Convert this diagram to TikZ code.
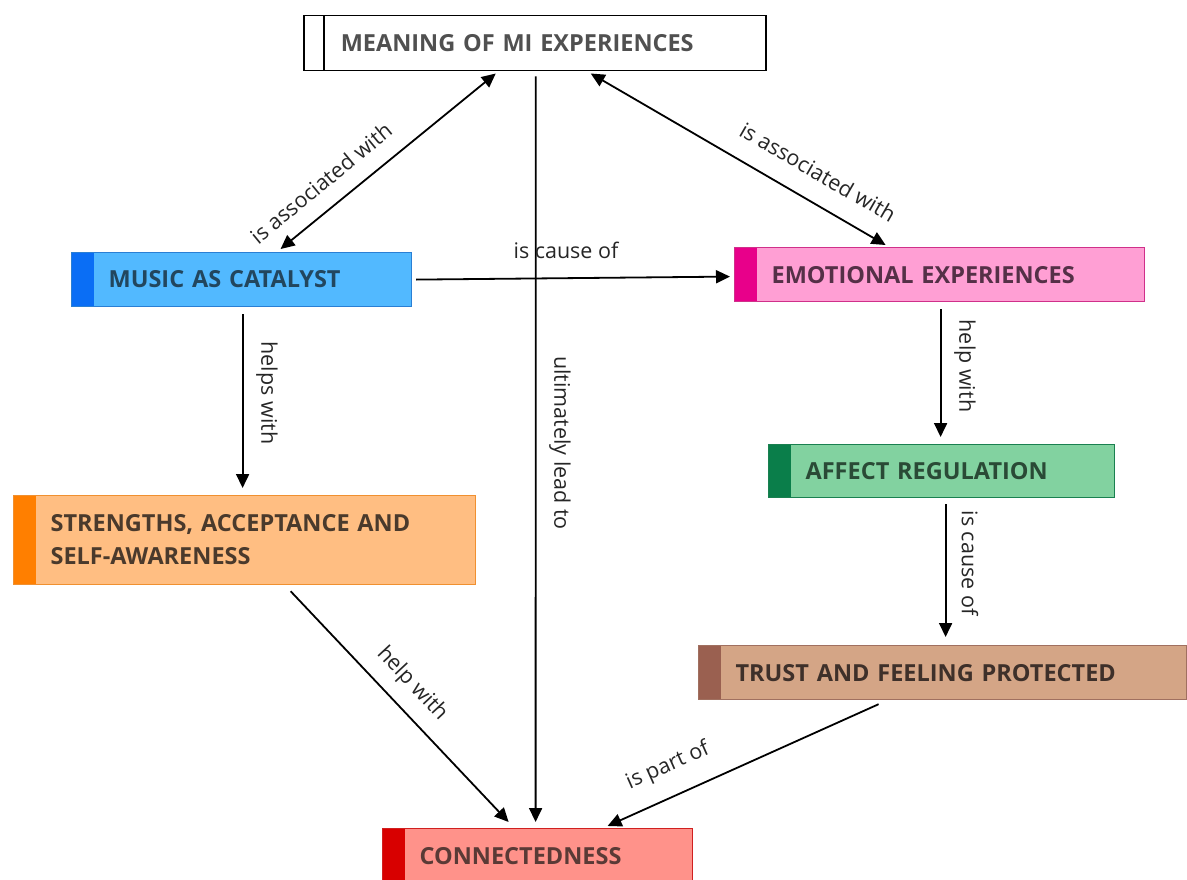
\documentclass[tikz,border=0pt]{standalone}
\usepackage{fontspec}
\setmainfont{Open Sans}
\newfontfamily\boxfam{Open Sans}
\usetikzlibrary{arrows.meta}
\definecolor{bluefill}{HTML}{52B9FF}\definecolor{bluestrip}{HTML}{0A6EF5}\definecolor{blueline}{HTML}{2A7FD4}\definecolor{bluetext}{HTML}{22465E}
\definecolor{pinkfill}{HTML}{FF9FD4}\definecolor{pinkstrip}{HTML}{E8008A}\definecolor{pinkline}{HTML}{D0308A}\definecolor{pinktext}{HTML}{553047}
\definecolor{orfill}{HTML}{FFBE82}\definecolor{orstrip}{HTML}{FF7F00}\definecolor{orline}{HTML}{F09030}\definecolor{ortext}{HTML}{4A3A2C}
\definecolor{grfill}{HTML}{82D2A0}\definecolor{grstrip}{HTML}{0A7E4A}\definecolor{grline}{HTML}{1A8050}\definecolor{grtext}{HTML}{2A4A36}
\definecolor{brfill}{HTML}{D4A586}\definecolor{brstrip}{HTML}{9A6050}\definecolor{brline}{HTML}{A07060}\definecolor{brtext}{HTML}{3E302A}
\definecolor{rdfill}{HTML}{FF928A}\definecolor{rdstrip}{HTML}{D80000}\definecolor{rdline}{HTML}{D02020}\definecolor{rdtext}{HTML}{5A3A36}
\definecolor{toptext}{HTML}{505050}
\tikzset{
  cbox/.style n args={4}{draw=#3, fill=#1, text=#4, line width=1.2pt, anchor=north west,
    align=left, inner xsep=37pt, inner ysep=0pt, minimum height=54pt,
    font=\boxfam\bfseries\fontsize{23.5}{33}\selectfont,
    path picture={\fill[#2] (path picture bounding box.north west) rectangle ([xshift=22pt]path picture bounding box.south west);}},
  topbox/.style={draw=black, fill=white, text=toptext, line width=1.5pt, anchor=north west,
    align=left, inner xsep=37pt, inner ysep=0pt, minimum height=55pt,
    font=\boxfam\bfseries\fontsize{23.5}{33}\selectfont,
    path picture={\draw[black, line width=1.5pt] ([xshift=20pt]path picture bounding box.north west) -- ([xshift=20pt]path picture bounding box.south west);}},
  arr/.style={line width=1.8pt, draw=black, -{Triangle[length=14pt,width=13pt]}},
  darr/.style={line width=1.8pt, draw=black, {Triangle[length=14pt,width=13pt]}-{Triangle[length=14pt,width=13pt]}},
  lbl/.style={font=\fontsize{21.5}{24}\selectfont, text=black!85, inner sep=0pt}
}
\begin{document}
\begin{tikzpicture}[x=1pt,y=-1pt]
\useasboundingbox (0,0) rectangle (1187,880);
\node[topbox, text width=388pt] (top) at (303,15) {MEANING OF MI EXPERIENCES};
\node[cbox={bluefill}{bluestrip}{blueline}{bluetext}, text width=266pt] (music) at (71,252) {MUSIC AS CATALYST};
\node[cbox={pinkfill}{pinkstrip}{pinkline}{pinktext}, text width=336pt] (emo) at (734,247) {EMOTIONAL EXPERIENCES};
\node[cbox={orfill}{orstrip}{orline}{ortext}, text width=388pt, minimum height=89pt] (str) at (13,495) {STRENGTHS, ACCEPTANCE AND\\SELF-AWARENESS};
\node[cbox={grfill}{grstrip}{grline}{grtext}, text width=272pt, minimum height=53pt] (aff) at (768,444) {AFFECT REGULATION};
\node[cbox={brfill}{brstrip}{brline}{brtext}, text width=414pt] (trust) at (698,645) {TRUST AND FEELING PROTECTED};
\node[cbox={rdfill}{rdstrip}{rdline}{rdtext}, text width=236pt] (conn) at (382,828) {CONNECTEDNESS};

\draw[darr] ([xshift=-39pt,yshift=-2pt]top.south) -- ([xshift=39pt,yshift=3pt]music.north);
\draw[darr] ([xshift=56pt,yshift=-2pt]top.south) -- ([xshift=-54pt,yshift=2pt]emo.north);
\draw[arr] ([xshift=1pt,yshift=-5pt]top.south) -- ([xshift=-2pt,yshift=6pt]conn.north);
\draw[arr] ([xshift=4pt]music.east) -- ([xshift=-4pt,yshift=-2pt]emo.west);
\draw[arr] ([xshift=1pt,yshift=-7pt]music.south) -- ([xshift=-2pt,yshift=7pt]str.north);
\draw[arr] ([xshift=1pt,yshift=-7pt]emo.south) -- ([xshift=-1pt,yshift=7pt]aff.north);
\draw[arr] ([xshift=4pt,yshift=-6pt]aff.south) -- ([xshift=3pt,yshift=8pt]trust.north);
\draw[arr] ([xshift=46pt,yshift=-6pt]str.south) -- ([xshift=-29pt,yshift=6pt]conn.north);
\draw[arr] ([xshift=-64pt,yshift=-4pt]trust.south) -- ([xshift=70pt,yshift=2pt]conn.north);

\node[lbl, rotate=39.5] (l1) at (321,183) {is associated with};
\node[lbl, rotate=-30] (l2) at (818,172) {is associated with};
\node[lbl] (l3) at (566,250) {is cause of};
\node[lbl, rotate=-90] (l4) at (267,393) {helps with};
\node[lbl, rotate=-90] (l5) at (560,443) {ultimately lead to};
\node[lbl, rotate=-90] (l6) at (965,366) {help with};
\node[lbl, rotate=-90] (l7) at (970,563) {is cause of};
\node[lbl, rotate=-47] (l8) at (412,684) {help with};
\node[lbl, rotate=24] (l9) at (668,766) {is part of};
\end{tikzpicture}
\end{document}
